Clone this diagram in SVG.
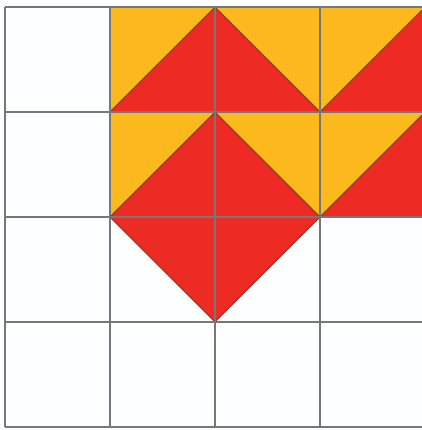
<svg xmlns="http://www.w3.org/2000/svg" width="422" height="430" viewBox="0 0 422 430">
<style>
.y{fill:#FBB91E}
.r{fill:#EE2A24;stroke:#8a3a2a;stroke-width:1.2;stroke-linejoin:miter}
.g{stroke:#777;stroke-width:2;fill:none}
</style>
<rect width="422" height="430" fill="#fdfeff"/>
<g id="yellow">
<rect class="y" x="110" y="7" width="315" height="210"/>
</g>
<g id="red">
<polygon class="r" points="110,112 215,7 320,112"/>
<polygon class="r" points="320,112 425,7 425,112"/>
<polygon class="r" points="110,217 215,112 320,217"/>
<polygon class="r" points="320,217 425,112 425,217"/>
<polygon class="r" points="110,217 215,322 320,217"/>
</g>
<g id="grid" class="g">
<path d="M5,7V427M110,7V427M215,7V427M320,7V427M5,7H425M5,112H425M5,217H425M5,322H425M5,427H425"/>
</g>
</svg>
